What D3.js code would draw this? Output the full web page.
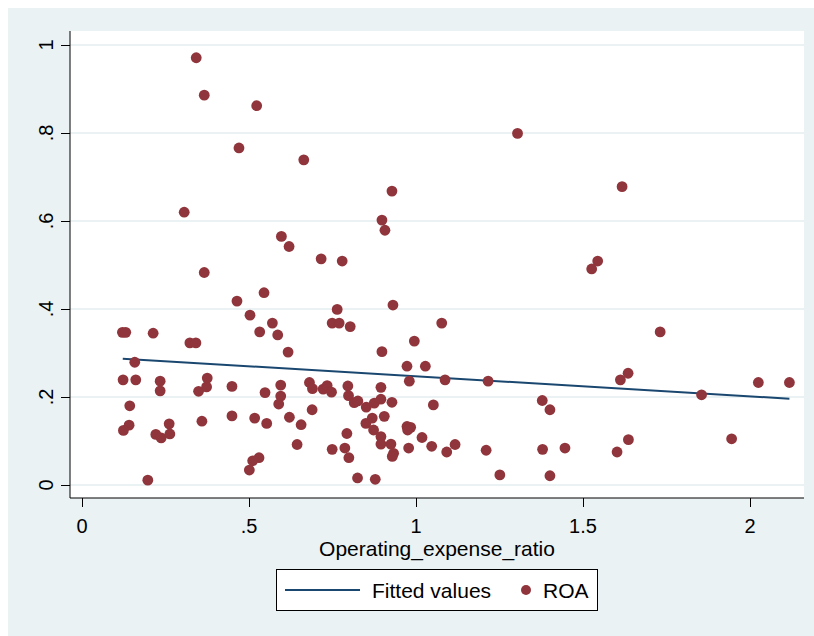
<!DOCTYPE html>
<html>
<head>
<meta charset="utf-8">
<script src="https://cdn.jsdelivr.net/npm/d3@7"></script>
<style>
  html, body { margin: 0; padding: 0; background: #ffffff; }
  svg { display: block; }
  text { font-family: "Liberation Sans", Arial, sans-serif; fill: #000; }
</style>
</head>
<body>
<svg id="chart" width="814" height="636"></svg>
<script>
// Scatter data (Operating_expense_ratio vs ROA)
const opExpRatio = [
  0.342, 0.366, 0.523, 0.470, 0.664, 0.306, 0.597, 0.620, 1.304, 0.928,
  0.898, 0.907, 0.716, 0.779, 1.617, 1.544, 1.526, 1.731, 1.635, 1.612,
  2.025, 2.118, 1.855, 1.378, 1.401, 1.379, 1.446, 1.636, 1.602, 1.945,
  1.401, 0.366, 0.464, 0.545, 0.503, 0.570, 0.532, 0.586, 0.617, 0.121,
  0.131, 0.213, 0.323, 0.341, 0.158, 0.123, 0.161, 0.234, 0.234, 0.375,
  0.373, 0.349, 0.449, 0.548, 0.595, 0.595, 0.589, 0.681, 0.690, 0.143,
  0.141, 0.124, 0.221, 0.237, 0.261, 0.263, 0.359, 0.449, 0.517, 0.553,
  0.621, 0.656, 0.644, 0.530, 0.511, 0.501, 0.197, 0.689, 0.931, 0.764,
  0.749, 0.770, 0.803, 1.077, 0.995, 0.898, 0.973, 1.028, 0.980, 1.087,
  1.216, 0.722, 0.734, 0.747, 0.796, 0.798, 0.815, 0.826, 0.851, 0.875,
  0.895, 0.895, 0.928, 1.052, 0.850, 0.869, 0.905, 0.873, 0.973, 0.984,
  0.975, 1.018, 0.793, 0.895, 0.895, 0.925, 0.749, 0.787, 0.799, 0.933,
  0.929, 0.978, 1.047, 1.092, 1.117, 1.210, 1.251, 0.825, 0.878
];
const roa = [
  0.971, 0.886, 0.862, 0.766, 0.739, 0.620, 0.565, 0.542, 0.799, 0.668,
  0.602, 0.579, 0.514, 0.509, 0.678, 0.509, 0.491, 0.348, 0.254, 0.239,
  0.233, 0.233, 0.205, 0.192, 0.171, 0.081, 0.084, 0.103, 0.075, 0.105,
  0.021, 0.483, 0.418, 0.437, 0.386, 0.368, 0.348, 0.341, 0.302, 0.347,
  0.347, 0.345, 0.323, 0.323, 0.279, 0.239, 0.239, 0.236, 0.214, 0.243,
  0.223, 0.213, 0.224, 0.210, 0.227, 0.202, 0.184, 0.233, 0.219, 0.180,
  0.136, 0.124, 0.115, 0.107, 0.139, 0.116, 0.145, 0.157, 0.152, 0.140,
  0.154, 0.137, 0.092, 0.062, 0.055, 0.034, 0.011, 0.171, 0.409, 0.399,
  0.368, 0.368, 0.360, 0.368, 0.327, 0.303, 0.270, 0.270, 0.236, 0.239,
  0.236, 0.218, 0.226, 0.211, 0.225, 0.203, 0.187, 0.191, 0.177, 0.186,
  0.195, 0.222, 0.188, 0.182, 0.140, 0.152, 0.156, 0.125, 0.133, 0.131,
  0.125, 0.108, 0.117, 0.110, 0.093, 0.093, 0.081, 0.084, 0.062, 0.072,
  0.065, 0.084, 0.088, 0.075, 0.092, 0.079, 0.023, 0.016, 0.013
];
// Fitted values line (endpoints)
const fitX = [0.122, 2.118];
const fitY = [0.287, 0.196];

const xTicks = [0, 0.5, 1, 1.5, 2];
const xTickLabels = ["0", ".5", "1", "1.5", "2"];
const yTicks = [0, 0.2, 0.4, 0.6, 0.8, 1];
const yTickLabels = ["0", ".2", ".4", ".6", ".8", "1"];
const xTitle = "Operating_expense_ratio";
const legendLabels = ["Fitted values", "ROA"];

const navy = "#1a476f";
const maroon = "#90353b";
const bg = "#eaf2f3";

const svg = d3.select("#chart");

// outer graph region
svg.append("rect").attr("x", 8).attr("y", 8).attr("width", 806).attr("height", 628).attr("fill", bg);

const plot = { left: 70, right: 804, top: 31, bottom: 498 };
svg.append("rect").attr("x", plot.left).attr("y", plot.top)
  .attr("width", plot.right - plot.left).attr("height", plot.bottom - plot.top)
  .attr("fill", "#ffffff");

const x = d3.scaleLinear().domain([0, 2]).range([82, 750]);
const y = d3.scaleLinear().domain([0, 1]).range([485, 45]);

// grid lines
svg.append("g").selectAll("line").data(yTicks).join("line")
  .attr("x1", plot.left).attr("x2", plot.right)
  .attr("y1", d => y(d)).attr("y2", d => y(d))
  .attr("stroke", bg).attr("stroke-width", 2);

// axes
const yAxis = d3.axisLeft(y).tickValues(yTicks).tickSize(9).tickPadding(0).tickFormat("");
const yG = svg.append("g").attr("transform", `translate(${plot.left},0)`).call(yAxis);
yG.select(".domain").attr("d", `M0,${plot.top}V${plot.bottom}`).attr("stroke", "#000");
yG.selectAll(".tick line").attr("stroke", "#000");

const xAxis = d3.axisBottom(x).tickValues(xTicks).tickSize(9).tickFormat("");
const xG = svg.append("g").attr("transform", `translate(0,${plot.bottom})`).call(xAxis);
xG.select(".domain").attr("d", `M${plot.left},0H${plot.right}`).attr("stroke", "#000");
xG.selectAll(".tick line").attr("stroke", "#000");

// tick labels
svg.append("g").selectAll("text").data(xTicks).join("text")
  .attr("x", d => x(d)).attr("y", 533)
  .attr("text-anchor", "middle").attr("font-size", 20)
  .text((d, i) => xTickLabels[i]);

svg.append("g").selectAll("text").data(yTicks).join("text")
  .attr("transform", d => `translate(53,${y(d)}) rotate(-90)`)
  .attr("text-anchor", "middle").attr("font-size", 20)
  .text((d, i) => yTickLabels[i]);

// axis title
svg.append("text").attr("x", (plot.left + plot.right) / 2).attr("y", 556)
  .attr("text-anchor", "middle").attr("font-size", 21).text(xTitle);

// fitted line
const fitData = fitX.map((d, i) => [d, fitY[i]]);
svg.append("path").datum(fitData)
  .attr("d", d3.line().x(d => x(d[0])).y(d => y(d[1])))
  .attr("fill", "none").attr("stroke", navy).attr("stroke-width", 2);

// scatter points
const pts = opExpRatio.map((d, i) => [d, roa[i]]);
svg.append("g").selectAll("circle").data(pts).join("circle")
  .attr("cx", d => x(d[0])).attr("cy", d => y(d[1]))
  .attr("r", 5.4).attr("fill", maroon);

// legend
const lg = svg.append("g");
lg.append("rect").attr("x", 276.5).attr("y", 569.5).attr("width", 321).attr("height", 41)
  .attr("fill", "#fff").attr("stroke", "#000").attr("stroke-width", 1);
lg.append("line").attr("x1", 285).attr("x2", 360).attr("y1", 590).attr("y2", 590)
  .attr("stroke", navy).attr("stroke-width", 2);
lg.append("text").attr("x", 372).attr("y", 598).attr("font-size", 21).text(legendLabels[0]);
lg.append("circle").attr("cx", 526).attr("cy", 590).attr("r", 5).attr("fill", maroon);
lg.append("text").attr("x", 543).attr("y", 598).attr("font-size", 21).text(legendLabels[1]);
</script>
</body>
</html>
